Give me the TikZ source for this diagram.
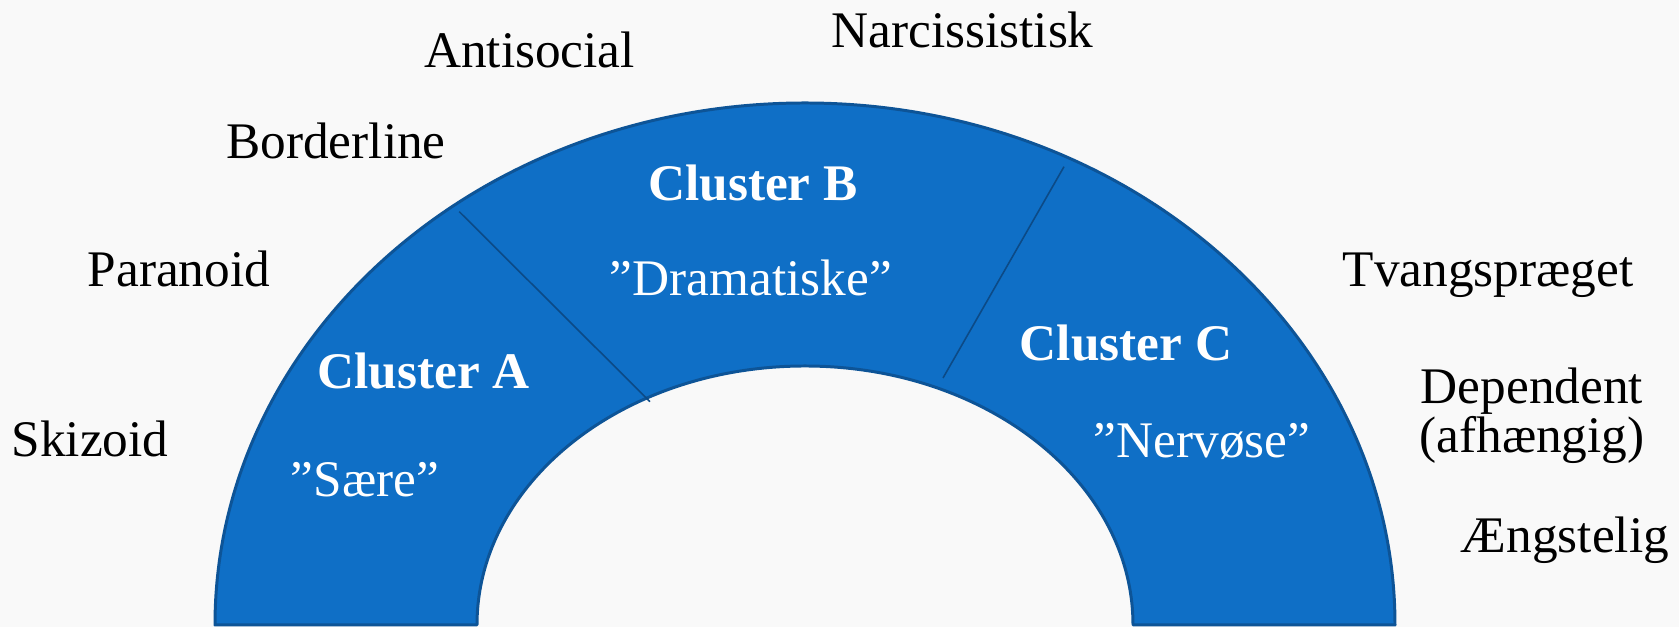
\documentclass[tikz,border=0pt]{standalone}
\usepackage{fontspec}
\setmainfont{Liberation Serif}
\usepackage{tikz}
\usetikzlibrary{calc}
\definecolor{arcblue}{HTML}{0F6FC6}
\definecolor{arcedge}{HTML}{0D5497}
\definecolor{arcsplit}{HTML}{0C4A86}
\definecolor{pagegrey}{HTML}{F9F9F9}
\tikzset{
  pd txt/.style={anchor=base, inner sep=0pt, font=\fontsize{14.6}{16.8}\selectfont},
  pd name/.style={pd txt, text=black, align=center},
  pd head/.style={pd txt, text=white, font=\fontsize{14.6}{16.8}\selectfont\bfseries},
  pd sub/.style={pd txt, text=white},
  pd arc/.style={fill=arcblue, draw=arcedge, line width=0.85pt, line join=round},
  pd split/.style={draw=arcsplit, line width=0.45pt},
}

\begin{document}
\begin{tikzpicture}[x=1cm, y=1cm]
  \useasboundingbox[fill=pagegrey] (0,0) rectangle (16.79,6.27);
  % the three clusters as one half ring
  \coordinate (m) at (8.05,0.02);
  \draw[pd arc] ($(m)+(-5.90,0)$) arc[start angle=180, end angle=0, x radius=5.90, y radius=5.22]
    -- ($(m)+(3.28,0)$) arc[start angle=0, end angle=180, x radius=3.28, y radius=2.59] -- cycle;
  \coordinate (ab top) at (4.593,4.153);
  \coordinate (ab bot) at (6.50,2.253);
  \coordinate (bc top) at (10.64,4.603);
  \coordinate (bc bot) at (9.43,2.49);
  \draw[pd split] (ab top) -- (ab bot);
  \draw[pd split] (bc top) -- (bc bot);
  % cluster titles
  \node[pd head] (ca) at (4.235,2.38) {Cluster A};
  \node[pd sub]  (sa) at (3.65,1.30) {”Sære”};
  \node[pd head] (cb) at (7.53,4.26) {Cluster B};
  \node[pd sub]  (sb) at (7.51,3.31) {”Dramatiske”};
  \node[pd head] (cc) at (11.26,2.66) {Cluster C};
  \node[pd sub]  (sc) at (12.02,1.69) {”Nervøse”};
  % disorders around the ring
  \node[pd name] (skiz) at (0.90,1.70) {Skizoid};
  \node[pd name] (para) at (1.79,3.40) {Paranoid};
  \node[pd name] (bord) at (3.36,4.68) {Borderline};
  \node[pd name] (anti) at (5.295,5.59) {Antisocial};
  \node[pd name] (narc) at (9.625,5.79) {Narcissistisk};
  \node[pd name] (tvang) at (14.88,3.40) {Tvangspræget};
  \node[pd name] (dep) at (15.32,1.74) {Dependent\\[-0.1cm](afhængig)};
  \node[pd name] (aeng) at (15.65,0.74) {Ængstelig};
\end{tikzpicture}
\end{document}
